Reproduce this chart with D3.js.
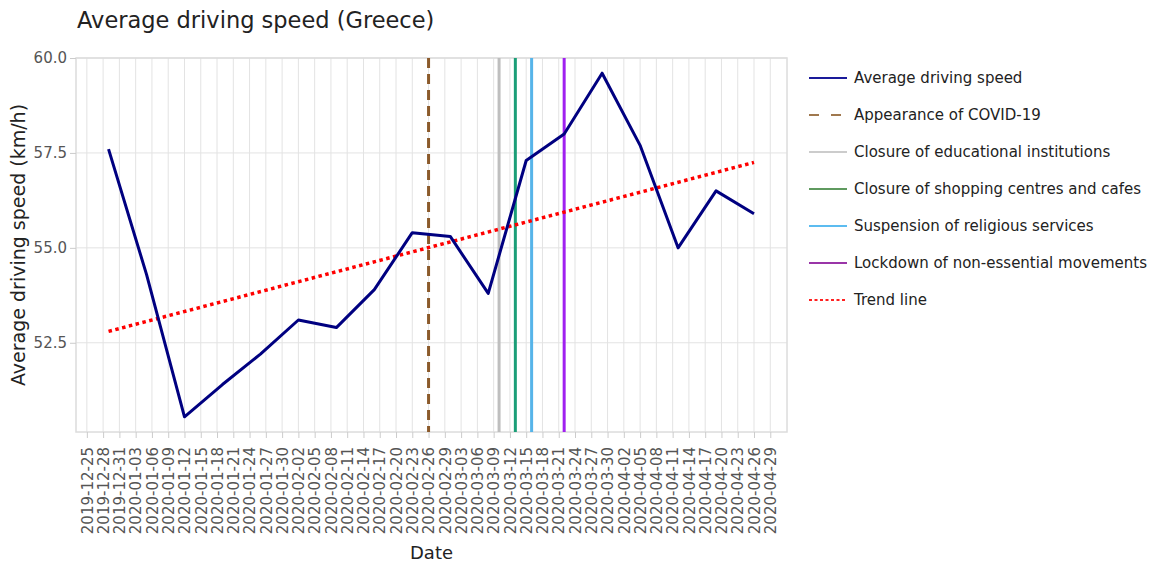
<!DOCTYPE html>
<html>
<head>
<meta charset="utf-8">
<script src="https://cdn.jsdelivr.net/npm/d3@7"></script>
<style>
  body { margin: 0; background: #fff; }
  svg { font-family: "DejaVu Sans", Verdana, sans-serif; }
</style>
</head>
<body>
<svg id="chart"></svg>
<script>
const width = 1150;
const height = 564;

// weekly observations
const dates = ["2019-12-29", "2020-01-05", "2020-01-12", "2020-01-19", "2020-01-26",
               "2020-02-02", "2020-02-09", "2020-02-16", "2020-02-23", "2020-03-01",
               "2020-03-08", "2020-03-15", "2020-03-22", "2020-03-29", "2020-04-05",
               "2020-04-12", "2020-04-19", "2020-04-26"];
const speeds = [57.6, 54.3, 50.55, 51.4, 52.2, 53.1, 52.9, 53.9, 55.4, 55.3,
                53.8, 57.3, 58.0, 59.6, 57.7, 55.0, 56.5, 55.9];

// trend line end points
const trendDates = ["2019-12-29", "2020-04-26"];
const trendValues = [52.8, 57.25];

// events (vertical lines)
const eventNames = ["Appearance of COVID-19", "Closure of educational institutions",
                    "Closure of shopping centres and cafes", "Suspension of religious services",
                    "Lockdown of non-essential movements"];
const eventDates = ["2020-02-26", "2020-03-10", "2020-03-13", "2020-03-16", "2020-03-22"];
const eventColors = ["#8b5a2b", "#bebebe", "#1b9e77", "#56b4e9", "#a020f0"];

const xTickLabels = ["2019-12-25", "2019-12-28", "2019-12-31", "2020-01-03", "2020-01-06",
  "2020-01-09", "2020-01-12", "2020-01-15", "2020-01-18", "2020-01-21", "2020-01-24",
  "2020-01-27", "2020-01-30", "2020-02-02", "2020-02-05", "2020-02-08", "2020-02-11",
  "2020-02-14", "2020-02-17", "2020-02-20", "2020-02-23", "2020-02-26", "2020-02-29",
  "2020-03-03", "2020-03-06", "2020-03-09", "2020-03-12", "2020-03-15", "2020-03-18",
  "2020-03-21", "2020-03-24", "2020-03-27", "2020-03-30", "2020-04-02", "2020-04-05",
  "2020-04-08", "2020-04-11", "2020-04-14", "2020-04-17", "2020-04-20", "2020-04-23",
  "2020-04-26", "2020-04-29"];
const yTicks = [52.5, 55.0, 57.5, 60.0];

// legend
const legendNames = ["Average driving speed"].concat(eventNames, ["Trend line"]);
const legendColors = ["#1a1a9a", "#a0784e", "#cccccc", "#5f9a5f", "#5cbcf0", "#9a35a8", "#ff2020"];
const legendDash = [null, "10,12", null, null, null, null, "3,2.5"];

const parse = d3.utcParse("%Y-%m-%d");

const margin = { top: 58, left: 76, right: 363, bottom: 132 };
const plotW = width - margin.left - margin.right;
const plotH = height - margin.top - margin.bottom;

const x = d3.scaleUtc()
  .domain([parse("2019-12-23"), new Date(Date.UTC(2020, 4, 2, 2))])
  .range([0, plotW]);
const y = d3.scaleLinear()
  .domain([50.15, 60])
  .range([plotH, 0]);

const svg = d3.select("#chart")
  .attr("width", width)
  .attr("height", height);

svg.append("text")
  .attr("x", 77).attr("y", 28)
  .attr("font-size", 22.5)
  .attr("fill", "#222")
  .text("Average driving speed (Greece)");

const g = svg.append("g")
  .attr("transform", `translate(${margin.left},${margin.top})`);

// gridlines
g.append("g")
  .selectAll("line")
  .data(xTickLabels)
  .join("line")
  .attr("x1", d => x(parse(d))).attr("x2", d => x(parse(d)))
  .attr("y1", 0).attr("y2", plotH)
  .attr("stroke", "#e3e3e3").attr("stroke-width", 1);
g.append("g")
  .selectAll("line")
  .data(yTicks)
  .join("line")
  .attr("x1", 0).attr("x2", plotW)
  .attr("y1", d => y(d)).attr("y2", d => y(d))
  .attr("stroke", "#e3e3e3").attr("stroke-width", 1);

g.append("rect")
  .attr("width", plotW).attr("height", plotH)
  .attr("fill", "none").attr("stroke", "#dcdcdc").attr("stroke-width", 1.5);

// axes
const xAxis = g.append("g")
  .attr("transform", `translate(0,${plotH})`)
  .call(d3.axisBottom(x)
    .tickValues(xTickLabels.map(parse))
    .tickFormat(d3.utcFormat("%Y-%m-%d"))
    .tickSize(6).tickPadding(4));
xAxis.select(".domain").remove();
xAxis.selectAll(".tick line").attr("stroke", "#ccc");
xAxis.selectAll(".tick text")
  .attr("font-size", 15)
  .attr("font-family", "DejaVu Sans, Verdana, sans-serif")
  .attr("fill", "#555")
  .attr("transform", "rotate(-90)")
  .attr("text-anchor", "end")
  .attr("x", -15).attr("y", 0).attr("dy", "0.35em");

const yAxis = g.append("g")
  .call(d3.axisLeft(y)
    .tickValues(yTicks)
    .tickFormat(d3.format(".1f"))
    .tickSize(6).tickPadding(3));
yAxis.select(".domain").remove();
yAxis.selectAll(".tick line").attr("stroke", "#ccc");
yAxis.selectAll(".tick text")
  .attr("font-size", 15)
  .attr("font-family", "DejaVu Sans, Verdana, sans-serif")
  .attr("fill", "#555");

svg.append("text")
  .attr("transform", `translate(25,${margin.top + plotH / 2}) rotate(-90)`)
  .attr("text-anchor", "middle")
  .attr("font-size", 19)
  .attr("fill", "#222")
  .text("Average driving speed (km/h)");

svg.append("text")
  .attr("x", margin.left + plotW / 2).attr("y", 559)
  .attr("text-anchor", "middle")
  .attr("font-size", 18)
  .attr("fill", "#222")
  .text("Date");

// event lines
g.append("g")
  .selectAll("line")
  .data(eventDates)
  .join("line")
  .attr("x1", d => x(parse(d))).attr("x2", d => x(parse(d)))
  .attr("y1", 0).attr("y2", plotH)
  .attr("stroke", (d, i) => eventColors[i])
  .attr("stroke-width", 3)
  .attr("stroke-dasharray", (d, i) => i === 0 ? "10,6" : null);

// trend line
const line = d3.line()
  .x(d => x(d[0]))
  .y(d => y(d[1]));

g.append("path")
  .datum(trendDates.map((d, i) => [parse(d), trendValues[i]]))
  .attr("d", line)
  .attr("fill", "none")
  .attr("stroke", "#ff0000")
  .attr("stroke-width", 3.5)
  .attr("stroke-dasharray", "3.5,3.5");

// main series
g.append("path")
  .datum(dates.map((d, i) => [parse(d), speeds[i]]))
  .attr("d", line)
  .attr("fill", "none")
  .attr("stroke", "#000080")
  .attr("stroke-width", 3)
  .attr("stroke-linejoin", "round");

const legend = svg.append("g")
  .attr("transform", "translate(809,78)");
const item = legend.selectAll("g")
  .data(legendNames)
  .join("g")
  .attr("transform", (d, i) => `translate(0,${i * 37})`);
item.append("line")
  .attr("x1", 0).attr("x2", 38)
  .attr("stroke", (d, i) => legendColors[i])
  .attr("stroke-width", 2)
  .attr("stroke-dasharray", (d, i) => legendDash[i]);
item.append("text")
  .attr("x", 45).attr("dy", "0.35em")
  .attr("font-size", 15)
  .attr("fill", "#222")
  .text(d => d);
</script>
</body>
</html>
